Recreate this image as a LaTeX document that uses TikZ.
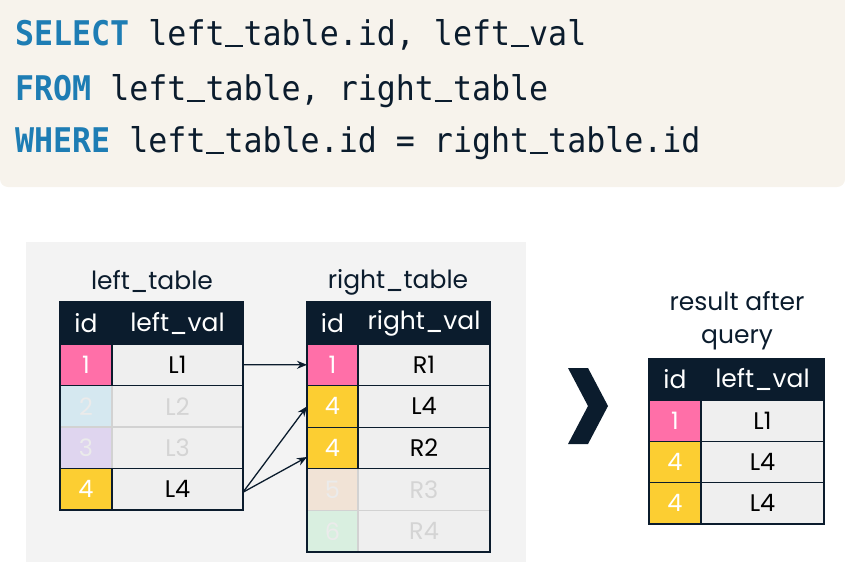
\documentclass[tikz,border=0pt]{standalone}
\usepackage{fontspec}
\setmainfont{Poppins}
\newfontfamily\codefont[FakeStretch=0.93]{DejaVu Sans Mono}
\usetikzlibrary{arrows.meta,calc}
\definecolor{navy}{HTML}{0B1C2D}
\definecolor{pinkc}{HTML}{FF6FA8}
\definecolor{yellowc}{HTML}{FCCE32}
\definecolor{lblue}{HTML}{D5E8F0}
\definecolor{lav}{HTML}{DFD5EF}
\definecolor{peach}{HTML}{F1E3D6}
\definecolor{mint}{HTML}{D9EFE0}
\definecolor{cellgray}{HTML}{EFEFEF}
\definecolor{panelgray}{HTML}{F3F3F3}
\definecolor{fadetext}{HTML}{D4D4D4}
\definecolor{fadeid}{HTML}{EBEBEB}
\definecolor{fadeline}{HTML}{D2D2D2}
\definecolor{codebg}{HTML}{F7F3EC}
\definecolor{kwblue}{HTML}{1E7DB4}
\tikzset{
  cell/.style={draw=navy, line width=1.3pt, inner sep=0pt, outer sep=0pt, font=\fontsize{24}{28}\selectfont},
  fcell/.style={draw=fadeline, line width=1.3pt, inner sep=0pt, outer sep=0pt, font=\fontsize{24}{28}\selectfont},
  hdr/.style={fill=navy, draw=navy, line width=1.3pt, inner sep=0pt, outer sep=0pt, text=white, font=\fontsize{25}{29}\selectfont},
  frame/.style={draw=navy, line width=1.4pt},
  title/.style={anchor=base, inner sep=0pt, text=navy, font=\fontsize{25}{29}\selectfont},
  codeline/.style={anchor=base west, inner sep=0pt, text=navy, font=\codefont\fontsize{34}{38}\selectfont},
  link/.style={draw=navy, line width=1.3pt, -{Stealth[length=10pt,width=8pt]}},
}
\newcommand{\kwd}[1]{\textcolor{kwblue}{\bfseries #1}}
\newcommand{\us}{\setbox0\hbox{a}\hbox to\wd0{\hss\rule[-0.07em]{0.52em}{0.07em}\hss}}
\begin{document}
\begin{tikzpicture}[x=1pt,y=-1pt]
\useasboundingbox (0,0) rectangle (845,562);
% code box
\fill[codebg, rounded corners=8pt] (0,-20) -- (845,-20) -- (845,187) -- (0,187) -- cycle;
\node[codeline] (c1) at (15,45) {\kwd{SELECT} left\us table.id, left\us val};
\node[codeline] (c2) at (15,100) {\kwd{FROM} left\us table, right\us table};
\node[codeline] (c3) at (15,152) {\kwd{WHERE} left\us table.id = right\us table.id};
% panel
\fill[panelgray] (26,242) rectangle (526,562);
% ---------- left table ----------
\node[title] (lt) at (152,289) {left\_table};
\node[hdr, minimum width=52pt, minimum height=42pt] (lhid) at (86,323) {id};
\node[hdr, minimum width=131pt, minimum height=42pt] (lhval) at (177.5,323) {left\_val};
% faded rows
\node[fcell, fill=lblue, text=fadeid, minimum width=52pt, minimum height=41.5pt] (lid2) at (86,406.25) {2};
\node[fcell, fill=cellgray, text=fadetext, minimum width=131pt, minimum height=41.5pt] (lv2) at (177.5,406.25) {L2};
\node[fcell, fill=lav, text=fadeid, minimum width=52pt, minimum height=41.5pt] (lid3) at (86,447.75) {3};
\node[fcell, fill=cellgray, text=fadetext, minimum width=131pt, minimum height=41.5pt] (lv3) at (177.5,447.75) {L3};
% active rows
\node[cell, fill=pinkc, text=white, minimum width=52pt, minimum height=41.5pt] (lid1) at (86,364.75) {1};
\node[cell, fill=cellgray, text=black, minimum width=131pt, minimum height=41.5pt] (lv1) at (177.5,364.75) {L1};
\node[cell, fill=yellowc, text=white, minimum width=52pt, minimum height=41.5pt] (lid4) at (86,489.25) {4};
\node[cell, fill=cellgray, text=black, minimum width=131pt, minimum height=41.5pt] (lv4) at (177.5,489.25) {L4};
\draw[frame] (lhid.north west) rectangle (lv4.south east);
% ---------- right table ----------
\node[title] (rt) at (398,288) {right\_table};
\node[hdr, minimum width=51pt, minimum height=42pt] (rhid) at (332.5,323) {id};
\node[hdr, minimum width=132pt, minimum height=42pt] (rhval) at (424,323) {right\_val};
\node[fcell, fill=peach, text=fadeid, minimum width=51pt, minimum height=41.6pt] (rid5) at (332.5,489.6) {5};
\node[fcell, fill=cellgray, text=fadetext, minimum width=132pt, minimum height=41.6pt] (rv5) at (424,489.6) {R3};
\node[fcell, fill=mint, text=fadeid, minimum width=51pt, minimum height=41.6pt] (rid6) at (332.5,531.2) {6};
\node[fcell, fill=cellgray, text=fadetext, minimum width=132pt, minimum height=41.6pt] (rv6) at (424,531.2) {R4};
\node[cell, fill=pinkc, text=white, minimum width=51pt, minimum height=41.6pt] (rid1) at (332.5,364.8) {1};
\node[cell, fill=cellgray, text=black, minimum width=132pt, minimum height=41.6pt] (rv1) at (424,364.8) {R1};
\node[cell, fill=yellowc, text=white, minimum width=51pt, minimum height=41.6pt] (rid2) at (332.5,406.4) {4};
\node[cell, fill=cellgray, text=black, minimum width=132pt, minimum height=41.6pt] (rv2) at (424,406.4) {L4};
\node[cell, fill=yellowc, text=white, minimum width=51pt, minimum height=41.6pt] (rid3) at (332.5,448) {4};
\node[cell, fill=cellgray, text=black, minimum width=132pt, minimum height=41.6pt] (rv3) at (424,448) {R2};
\draw[frame] (rhid.north west) rectangle (rv6.south east);
% connectors
\draw[link] (lv1.east) -- (rid1.west);
\draw[link] ($(lv4.east)+(0,3)$) -- (rid2.west);
\draw[link] ($(lv4.east)+(0,3)$) -- ($(rid3.west)+(0,9)$);
% chevron
\fill[navy] (568,368) -- (588,368) -- (608,406) -- (588,444) -- (568,444) -- (588,406) -- cycle;
% ---------- result table ----------
\node[title] (res1) at (737,310) {result after};
\node[title] (res2) at (737,343) {query};
\node[hdr, minimum width=52pt, minimum height=41pt] (qhid) at (675,379.5) {id};
\node[hdr, minimum width=123pt, minimum height=41pt] (qhval) at (762.5,379.5) {left\_val};
\node[cell, fill=pinkc, text=white, minimum width=52pt, minimum height=41.3pt] (qid1) at (675,420.65) {1};
\node[cell, fill=cellgray, text=black, minimum width=123pt, minimum height=41.3pt] (qv1) at (762.5,420.65) {L1};
\node[cell, fill=yellowc, text=white, minimum width=52pt, minimum height=41.3pt] (qid2) at (675,461.95) {4};
\node[cell, fill=cellgray, text=black, minimum width=123pt, minimum height=41.3pt] (qv2) at (762.5,461.95) {L4};
\node[cell, fill=yellowc, text=white, minimum width=52pt, minimum height=41.3pt] (qid3) at (675,503.25) {4};
\node[cell, fill=cellgray, text=black, minimum width=123pt, minimum height=41.3pt] (qv3) at (762.5,503.25) {L4};
\draw[frame] (qhid.north west) rectangle (qv3.south east);
\end{tikzpicture}
\end{document}
